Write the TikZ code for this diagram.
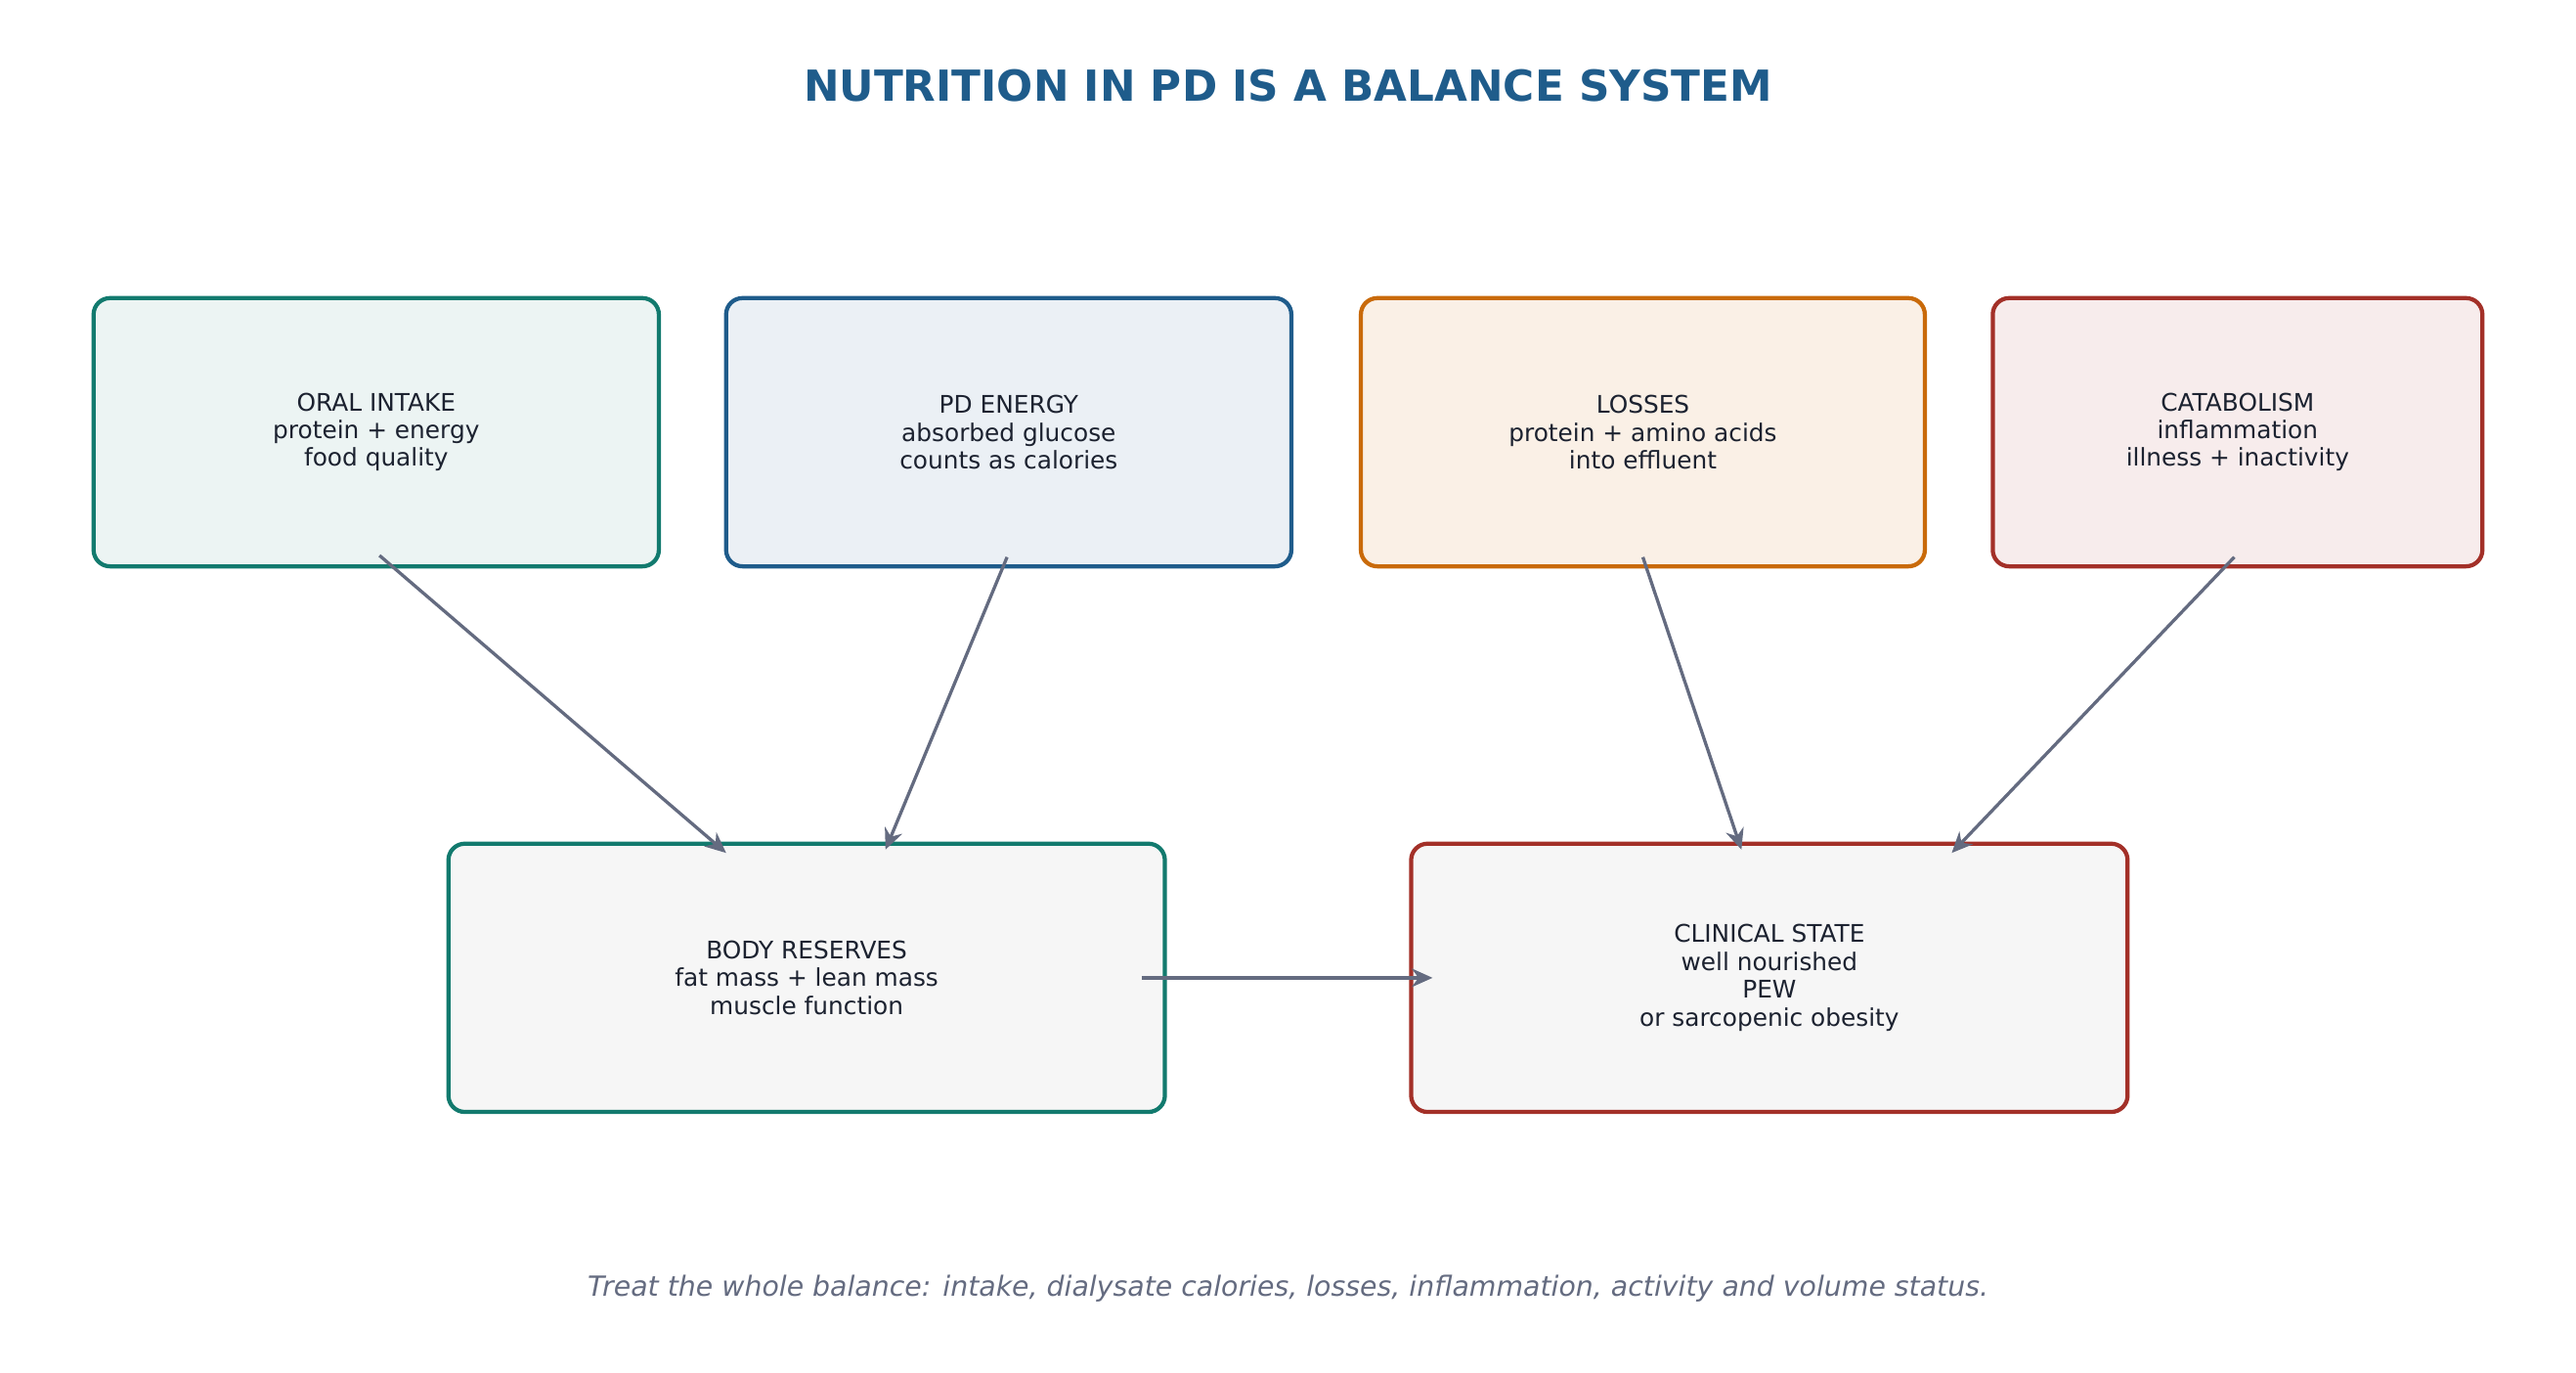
\documentclass[tikz,border=0pt]{standalone}
\usepackage{fontspec}
\setmainfont{DejaVu Sans}
\usetikzlibrary{arrows.meta}
\definecolor{teal}{HTML}{127A6E}
\definecolor{blue}{HTML}{1F5C8B}
\definecolor{orange}{HTML}{C96A0A}
\definecolor{red}{HTML}{A33028}
\definecolor{arrowgray}{HTML}{646B80}
\definecolor{txt}{HTML}{1C2230}
\begin{document}
\begin{tikzpicture}[x=0.025cm,y=-0.025cm,
    box/.style={draw,line width=1.8pt,rounded corners=0.25cm,align=center,
      font=\fontsize{10.5}{12}\selectfont,text=txt,inner sep=0pt},
    flow/.style={draw=arrowgray,line width=1.4pt,-{Stealth[length=9pt,width=8pt]}}]
    \useasboundingbox (0,0) rectangle (1568,835);
    \node[font=\bfseries\fontsize{18.5}{22}\selectfont,text=blue] (title) at (784,52) {NUTRITION IN PD IS A BALANCE SYSTEM};
    % top row
    \node[box,draw=teal,fill=teal!8,minimum width=8.6cm,minimum height=4.08cm] (oral) at (229,263)
      {ORAL INTAKE\\protein + energy\\food quality};
    \node[box,draw=blue,fill=blue!9,minimum width=8.6cm,minimum height=4.08cm] (pd) at (614,263)
      {PD ENERGY\\absorbed glucose\\counts as calories};
    \node[box,draw=orange,fill=orange!10,minimum width=8.58cm,minimum height=4.08cm] (loss) at (1000,263)
      {LOSSES\\protein + amino acids\\into effluent};
    \node[box,draw=red,fill=red!9,minimum width=7.45cm,minimum height=4.08cm] (cat) at (1362,263)
      {CATABOLISM\\inflammation\\illness + inactivity};
    % bottom row
    \node[box,draw=teal,fill=gray!7,minimum width=10.9cm,minimum height=4.08cm] (body) at (491,595)
      {BODY RESERVES\\fat mass + lean mass\\muscle function};
    \node[box,draw=red,fill=gray!7,minimum width=10.9cm,minimum height=4.08cm] (clin) at (1077,595)
      {CLINICAL STATE\\well nourished\\PEW\\or sarcopenic obesity};
    % connector ends
    \coordinate (oralS) at (231,338);  \coordinate (bodyA) at (442,519);
    \coordinate (pdS) at (613,339);    \coordinate (bodyB) at (539,517);
    \coordinate (lossS) at (1000,339); \coordinate (clinA) at (1060,517);
    \coordinate (catS) at (1360,339);  \coordinate (clinB) at (1188,519);
    \coordinate (bodyE) at (695,595);  \coordinate (clinW) at (872,595);
    \draw[flow] (oralS) -- (bodyA);
    \draw[flow] (pdS) -- (bodyB);
    \draw[flow] (lossS) -- (clinA);
    \draw[flow] (catS) -- (clinB);
    \draw[flow] (bodyE) -- (clinW);
    \node[font=\itshape\fontsize{12}{14}\selectfont,text=arrowgray] (note) at (784,784)
      {Treat the whole balance: intake, dialysate calories, losses, inflammation, activity and volume status.};
\end{tikzpicture}
\end{document}
